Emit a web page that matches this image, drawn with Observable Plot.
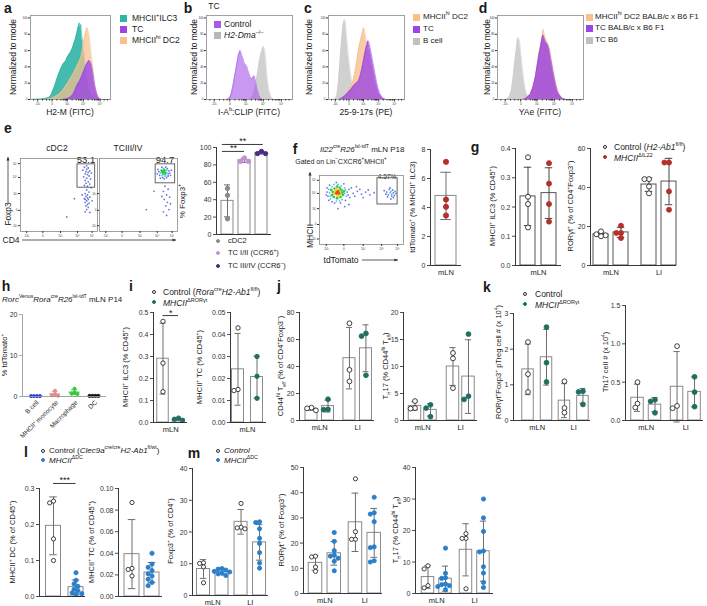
<!DOCTYPE html>
<html><head><meta charset="utf-8">
<script src="https://cdn.jsdelivr.net/npm/d3@7"></script>
<script src="https://cdn.jsdelivr.net/npm/@observablehq/plot@0.6"></script>
<style>
html,body{margin:0;padding:0;background:#fff;}
#fig{position:relative;width:707px;height:606px;overflow:hidden;font-family:"Liberation Sans",Arial,Helvetica,sans-serif;color:#1a1a1a;background:#fff;}
#fig sup{font-size:65%;vertical-align:super;line-height:0;}
#fig sub{font-size:65%;vertical-align:sub;line-height:0;}
</style></head><body><div id="fig"></div>
<script>
// ================= DATA =================
const histXMajor=[9,27,46,66,87];
const histXLabels=["-10³","0","10³","10⁴","10⁵"];
const histXMinor=[4,15,20,24,33,38,41,43,44,45,52,57,60,62,63,64,72,77,80,82,84,85,92,96];
const histYTicks=[0,20,40,60,80,100];
const aILC3=[[0,0],[14,0.5],[20,1.5],[24,3],[26,6],[28,11],[30,16],[32,22],[34,28],[36,33],[38,38],[40,42],[42,45],[44,47],[46,52],[48,55],[50,58],[52,62],[54,68],[56,74],[58,82],[60,90],[61,94],[62,88],[63,92],[64,80],[65,72],[66,62],[68,46],[70,30],[72,18],[74,10],[76,5],[79,2],[83,0.5],[86,0],[100,0]];
const aDC2=[[18,0],[24,1],[30,3],[35,6],[40,11],[45,18],[50,26],[54,33],[58,41],[61,47],[63,52],[65,62],[67,74],[69,84],[70,87],[71,88],[72,84],[73,80],[74,73],[75,62],[77,46],[79,28],[81,14],[83,6],[85,2],[88,0],[100,0]];
const aTC=[[40,0],[46,1],[50,3],[53,6],[55,10],[57,15],[59,19],[61,22],[63,26],[65,31],[67,36],[69,41],[71,45],[73,48],[74,47],[75,46],[76,43],[77,39],[78,33],[79,26],[80,19],[82,10],[84,4],[86,1],[89,0],[100,0]];
const bControl=[[24,0],[27,2],[29,8],[31,18],[33,30],[35,42],[37,54],[39,60],[40,58],[41,54],[43,48],[44,44],[46,42],[47,40],[48,36],[50,30],[51,27],[53,25],[54,27],[55,29],[56,28],[57,22],[59,12],[61,5],[63,1],[65,0],[100,0]];
const bDma=[[48,0],[52,1],[55,8],[57,18],[59,30],[61,44],[63,55],[65,62],[66,65],[67,63],[68,58],[69,48],[70,33],[71,22],[73,10],[75,3],[78,0],[100,0]];
const cBcell=[[5,0],[9,1],[11,5],[13,20],[15,45],[17,70],[19,90],[21,98],[22,95],[23,86],[24,75],[26,55],[28,38],[30,25],[32,16],[35,8],[38,4],[42,1],[46,0],[100,0]];
const cDC2=[[14,0],[18,2],[22,5],[26,10],[29,15],[32,22],[34,30],[36,40],[38,52],[40,64],[42,72],[44,80],[46,88],[47,86],[48,82],[49,76],[51,66],[53,58],[55,50],[57,40],[59,30],[61,20],[63,11],[65,6],[68,2],[72,0],[100,0]];
const cTC=[[14,0],[18,2],[22,5],[26,9],[30,13],[33,17],[36,20],[38,21],[40,24],[42,30],[44,38],[46,48],[48,58],[50,66],[52,72],[53,70],[55,62],[57,52],[59,42],[61,32],[63,22],[65,14],[67,8],[70,3],[73,1],[76,0],[100,0]];
const dTCB6=[[10,0],[13,2],[16,10],[18,25],[20,45],[22,62],[23,72],[24,76],[25,74],[26,68],[28,48],[30,28],[32,14],[34,6],[37,2],[40,0],[100,0]];
const dDC2F1=[[30,0],[34,2],[38,6],[41,14],[44,28],[46,42],[48,56],[50,66],[52,78],[53,86],[54,82],[56,74],[58,70],[60,64],[62,52],[64,40],[66,28],[68,18],[70,10],[73,4],[76,1],[80,0],[100,0]];
const dTCF1=[[30,0],[34,2],[38,6],[41,14],[44,27],[46,40],[48,53],[50,64],[52,76],[53,79],[54,76],[56,70],[58,68],[60,62],[62,50],[64,38],[66,27],[68,17],[70,9],[73,4],[76,1],[80,0],[100,0]];
const flowTicks=[8,29,52,74,93];
const flowLabels=["-10³","0","10³","10⁴","10⁵"];
const eDC2Pts=[[83,88],[86,85],[88,87],[85,82],[90,83],[84,79],[87,78],[89,76],[82,75],[86,73],[91,72],[84,70],[88,68],[85,66],[90,65],[83,63],[87,62],[86,57],[89,54],[84,52],[87,50],[85,48],[90,47],[83,45],[88,44],[86,42],[84,40],[89,39],[87,37],[85,35],[88,33],[86,30],[84,27],[90,26],[92,80],[81,84],[92,60],[80,50],[93,42],[60,20],[70,45],[86,90],[88,81],[84,44],[87,46]];
const eTCPts=[[81,81,2],[83,82,2],[82,79,2],[84,80,2],[80,83,2],[83,84,2],[78,80,1],[86,81,1],[80,77,1],[85,78,1],[82,86,1],[79,84,1],[86,84,1],[84,76,1],[76,82],[88,79],[77,77],[89,83],[81,74],[87,86],[75,85],[90,80],[83,72],[78,73],[86,74],[88,76],[80,88],[85,88],[92,84],[74,79],[91,77],[84,62],[88,58],[82,55],[86,50],[90,47],[83,44],[87,40],[85,35],[89,30],[82,27],[86,22],[91,38],[80,48],[60,30],[70,55]];
const fPts=[[21,76,4],[23,74,4],[22,77,4],[20,74,4],[19,77,3],[24,76,3],[21,72,3],[23,79,3],[18,74,3],[25,73,3],[20,80,3],[22,70,3],[16,76,2],[27,75,2],[15,72,2],[26,79,2],[18,81,2],[24,82,2],[17,69,2],[25,69,2],[21,67,2],[28,72,2],[14,79,2],[21,84,2],[29,77,2],[12,75,1],[30,74,1],[13,70,1],[31,79,1],[15,84,1],[26,85,1],[13,66,1],[27,65,1],[20,63,1],[32,70,1],[11,80,1],[22,87,1],[17,87,1],[30,82,1],[24,63,1],[9,76],[33,76],[10,70],[34,72],[12,86],[29,88],[11,64],[31,64],[18,60],[25,60],[9,82],[35,80],[20,90],[15,62],[8,72],[36,68],[40,74],[45,77],[50,73],[55,76],[60,72],[48,80],[42,70],[58,79],[65,75],[38,82],[52,68],[44,84],[30,55],[22,52],[35,58],[84,75,1],[86,73,1],[85,77,1],[80,76],[88,75],[82,72],[87,79],[83,80],[89,71],[81,69],[86,70],[90,77],[79,73],[84,82],[88,68],[77,78],[91,74],[85,66]];
const eDC2Gate=[74,97,60,92], eTCGate=[72,97,66,92], fGate=[69,93,58,96];
const eCDC2=[53,45,18], eTC12=[88,84,84], eTC34=[93,95.5,93];
const fTdTomato=[7.15,4.55,4.05,3.45];
const g1Control=[0.37,0.235,0.21,0.13], g1MHCII=[0.35,0.28,0.21,0.15];
const tissues=["mLN","LI"];
const g2Control=[[17.5,16,15.5,15],[44.3,44.3,40.5,37]];
const g2MHCII=[[20.4,16.7,16.7,14.1],[52.8,52.8,38,28.6]];
const hCells=["B cell","MHCII⁺ monocyte","Macrophage","DC"];
const hBcell=[0.1,0.1,0.1,0.1], hMono=[1.4,0.5,0.3,0.2], hMac=[1.9,1.0,0.7,0.6], hDC=[0.15,0.15,0.15,0.15];
const i1Control=[0.46,0.27,0.14], i1MHCII=[0.02,0.015,0.01];
const i2Control=[0.043,0.0145,0.015], i2MHCII=[0.030,0.021,0.011];
const j1Control=[[7.5,9.5,9],[72,37.5,29]], j1MHCII=[[15.75,8.25,8],[64.5,62.5,33.5]];
const j2Control=[[3.6,2.2,2.3],[12.5,11.5,6]], j2MHCII=[[2.9,2.3,0.7],[16,4.5,3.9]];
const k1Control=[[2.2,1.3,0.8],[1.1,0.35,0.22]], k1MHCII=[[2.62,1.62,1.08],[0.82,0.8,0.45]];
const k2Control=[[0.5,0.17,0.22],[0.97,0.19,0.16]], k2MHCII=[[0.27,0.25,0.1],[0.57,0.37,0.18]];
const l1Control=[0.265,0.26,0.16,0.10], l1MHCII=[0.066,0.045,0.035,0.028,0.02,0.016,0.01,0.008,0.006];
const l2Control=[0.087,0.026,0.025,0.019], l2MHCII=[0.040,0.030,0.027,0.024,0.021,0.019,0.016,0.013,0.010];
const m1Control=[[10.3,10.1,9.0,4.0],[29,21.5,21.3,21]], m1MHCII=[[8.5,8.3,8.0,7.6,7.4,7.0,6.8,6.3],[23.2,23.0,21.0,18,16.4,13.5,10.2,8.6]];
const m2Control=[[14.8,14.5,10.5,8.8],[45.5,24.5,21.5,21.5]], m2MHCII=[[24.2,20.7,17.0,15.2,14.8,14.0,12.8,9.0],[38.2,32,31.5,28.5,18.5,18.2,13,12.5]];
const m3Control=[[8.8,7.8,2.5,1.8],[19,17.5,17.5,1.5]], m3MHCII=[[14.4,6.4,5.0,4.8,3.0,2.8,2.5,2.2,1.2],[30,24,19.7,13.5,13.2,8.5,6.5,3.5,1.9]];

// ================= STYLE =================
const FONT='"Liberation Sans", Arial, Helvetica, sans-serif';
const TEAL='#2fb5a6', PEACH='#f7c08c', VIOLET='#9b45e4';
const RED='#b3302b', GREEN='#1f6e60', BLUE='#2a7fc9';
const JET=['#4b5fd2','#27b8e6','#35c94a','#f0d12b','#ec4a1f'];
const fig=document.getElementById('fig');

function wrap(svg,left,top,W,H){const d=document.createElement('div');Object.assign(d.style,{position:'absolute',left:left+'px',top:top+'px',width:W+'px',height:H+'px',zIndex:'5'});d.appendChild(svg);fig.appendChild(d);}
function plotAt(r,m,opts,fs){
  const W=r.x1-r.x0+m.l+m.r,H=r.y1-r.y0+m.t+m.b;
  const svg=Plot.plot({width:W,height:H,marginLeft:m.l,marginRight:m.r,marginTop:m.t,marginBottom:m.b,
    style:{background:'transparent',fontFamily:FONT,fontSize:(fs||7)+'px',color:'#333',overflow:'visible'},...opts});
  wrap(svg,r.x0-m.l,r.y0-m.t,W,H);
  return {svg,left:r.x0-m.l,top:r.y0-m.t,m,r};
}
function txt(html,x,y,o={}){
  const d=document.createElement('div');d.innerHTML=html;
  const s=d.style;s.position='absolute';s.left=x+'px';s.top=y+'px';s.whiteSpace='nowrap';s.lineHeight='1';s.zIndex=o.z||'1';s.background='transparent';
  s.fontSize=(o.size||8)+'px';if(o.bold)s.fontWeight='bold';if(o.italic)s.fontStyle='italic';s.color=o.color||'#1a1a1a';
  const ax=o.anchor==='start'?'0':(o.anchor==='end'?'-100%':'-50%');
  s.transform=`translate(${ax},-50%)`+(o.rotate?` rotate(${o.rotate}deg)`:'');
  fig.appendChild(d);
}
function sq(x,y,color,s=7){const d=document.createElement('div');Object.assign(d.style,{position:'absolute',zIndex:'1',left:(x-s/2)+'px',top:(y-s/2)+'px',width:s+'px',height:s+'px',background:color});fig.appendChild(d);}
function circ(x,y,fill,stroke,r=2.3){const d=document.createElement('div');Object.assign(d.style,{position:'absolute',zIndex:'1',left:(x-r)+'px',top:(y-r)+'px',width:(2*r)+'px',height:(2*r)+'px',background:fill,border:`0.9px solid ${stroke}`,borderRadius:'50%',boxSizing:'border-box'});fig.appendChild(d);}

function histo(r,layers){
  const marks=[];
  for(const L of layers){
    marks.push(Plot.areaY(L.data,{x:d=>d[0],y:d=>d[1],fill:L.color,fillOpacity:L.op,curve:'linear'}));
    marks.push(Plot.lineY(L.data,{x:d=>d[0],y:d=>d[1],stroke:L.color,strokeWidth:0.6,curve:'linear'}));
  }
  const lab=new Map(histXMajor.map((v,i)=>[v,histXLabels[i]]));
  marks.push(Plot.frame({stroke:'#8a8a8a',strokeWidth:0.8}));
  marks.push(Plot.axisY({ticks:histYTicks,tickSize:2,tickPadding:1,label:null}));
  marks.push(Plot.axisX({ticks:histXMajor,tickFormat:d=>lab.get(d),tickSize:2.5,tickPadding:1,label:null}));
  marks.push(Plot.axisX({ticks:histXMinor,tickFormat:()=>'',tickSize:1.5,label:null}));
  plotAt(r,{l:8,r:2,t:2,b:8},{x:{domain:[0,100]},y:{domain:[0,103]},marks},3);
}
function flow(r,pts,gate,noYLabels){
  const lo=pts.filter(p=>(p[2]||0)<2), hi=pts.filter(p=>(p[2]||0)>=2).sort((a,b)=>a[2]-b[2]);
  const lab=new Map(flowTicks.map((v,i)=>[v,flowLabels[i]]));
  plotAt(r,{l:7,r:1,t:1,b:6},{x:{domain:[0,100]},y:{domain:[0,100]},color:{type:'identity'},marks:[
    Plot.frame({stroke:'#8a8a8a',strokeWidth:0.8}),
    Plot.dot(lo,{x:d=>d[0],y:d=>d[1],r:0.9,fill:d=>JET[d[2]||0],fillOpacity:0.85,stroke:null}),
    Plot.dot(hi,{x:d=>d[0],y:d=>d[1],r:1.4,fill:d=>JET[d[2]],stroke:null}),
    Plot.rect([gate],{x1:d=>d[0],x2:d=>d[1],y1:d=>d[2],y2:d=>d[3],fill:'none',stroke:'#555',strokeWidth:0.9}),
    Plot.axisY({ticks:noYLabels?flowTicks.slice(0,3):flowTicks,tickFormat:d=>lab.get(d),tickSize:2,tickPadding:1,label:null}),
    Plot.axisX({ticks:flowTicks,tickFormat:d=>lab.get(d),tickSize:2,tickPadding:1,label:null})
  ]},3);
}
function swarm(vals,r,k,center){
  const d=2*r*0.92,placed=[];
  const sorted=[...vals].sort((a,b)=>b-a);
  for(const v of sorted){
    const py=v*k;
    for(let i=0;i<400;i++){
      const off=i===0?0:(i%2?-1:1)*Math.ceil(i/2)*d/2;
      if(placed.every(p=>Math.hypot(p.px-off,p.py-py)>=d)){placed.push({v,px:off,py});break;}
    }
  }
  if(center){const mo=d3.mean(placed,p=>p.px);placed.forEach(p=>p.px-=mo);}
  return placed.map(p=>[p.v,p.px]);
}
function barChart(L,groups,series){
  const dom=[(L.x0-L.c0)/L.unit,(L.x1-L.c0)/L.unit];
  const k=(L.yBot-L.yTop)/L.ymax, r=L.r||2.3, step=L.step||1;
  const fmt=L.fmt||(d=>String(d));
  const stats=[],pts=[];
  series.forEach((s,si)=>s.values.forEach((vals,gi)=>{
    const c=gi*step+si;
    const m=d3.mean(vals),sd=vals.length>1?d3.deviation(vals):0;
    stats.push({c,m,lo:m-sd,hi:m+sd,color:s.color});
    for(const [v,off] of swarm(vals,r,k,L.center)) pts.push({x:c+off/L.unit,y:v,fill:s.filled?s.color:'#fff',stroke:s.filled?s.color:'#2b2b2b'});
  }));
  const bw=L.barW||12, hw=bw/2/L.unit, cap=(L.capW||bw*0.5)/2/L.unit;
  const ec=L.noBars?(d=>d.color):(L.errColor||'#6e6e6e');
  const axC=L.axisColor||'#222';
  const marks=[];
  if(!L.noBars) marks.push(Plot.rect(stats,{x1:d=>d.c-hw,x2:d=>d.c+hw,y1:0,y2:'m',fill:'#fff',stroke:L.barColor||'#8a8a8a',strokeWidth:1}));
  else marks.push(Plot.ruleY(stats,{y:'m',x1:d=>d.c-hw,x2:d=>d.c+hw,stroke:d=>d.color,strokeWidth:1.2}));
  marks.push(Plot.ruleX(stats,{x:'c',y1:'lo',y2:'hi',stroke:ec,strokeWidth:1}));
  marks.push(Plot.ruleY(stats,{y:'hi',x1:d=>d.c-cap,x2:d=>d.c+cap,stroke:ec,strokeWidth:1}));
  marks.push(Plot.ruleY(stats,{y:'lo',x1:d=>d.c-cap,x2:d=>d.c+cap,stroke:ec,strokeWidth:1}));
  marks.push(Plot.dot(pts,{x:'x',y:'y',r,fill:d=>d.fill,stroke:d=>d.stroke,strokeWidth:0.9}));
  marks.push(Plot.ruleX([dom[0]],{y1:0,y2:L.ymax,stroke:axC,strokeWidth:0.9}));
  marks.push(Plot.ruleY([0],{x1:dom[0],x2:dom[1],stroke:axC,strokeWidth:0.9}));
  marks.push(Plot.ruleY(L.ticks,{y:d=>d,x1:()=>dom[0]-3/L.unit,x2:()=>dom[0],stroke:axC,strokeWidth:0.8}));
  if(groups&&!L.rotLabels) marks.push(Plot.text(groups,{x:(d,i)=>i*step+(series.length-1)/2,y:()=>0,text:d=>d,dy:L.labDy||4,lineAnchor:'top',fontSize:7.5,fill:'#222'}));
  if(L.rotLabels) marks.push(Plot.text(groups,{x:(d,i)=>i,y:()=>0,text:d=>d,dy:5,dx:2,rotate:-45,textAnchor:'end',fontSize:6.5,fill:'#222'}));
  if(L.sig){
    marks.push(Plot.ruleY(L.sig,{y:'y',x1:'a',x2:'b',stroke:'#222',strokeWidth:0.9}));
    marks.push(Plot.text(L.sig,{x:d=>(d.a+d.b)/2,y:'y',text:'t',dy:0,lineAnchor:'bottom',fontSize:9,fill:'#222'}));
  }
  const P=plotAt({x0:L.x0,x1:L.x1,y0:L.yTop,y1:L.yBot},{l:26,r:4,t:8,b:14},{
    x:{domain:dom,axis:null},y:{domain:[0,L.ymax],axis:null},color:{type:'identity'},marks},7);
  // y tick labels placed through the chart's own scales
  let ys=null,xs=null;
  try{ys=P.svg.scale('y');xs=P.svg.scale('x');}catch(e){}
  for(const v of L.ticks){
    const px=xs?P.left+xs.apply(dom[0]):L.x0;
    const py=ys?P.top+ys.apply(v):(L.yBot-(v/L.ymax)*(L.yBot-L.yTop));
    txt(fmt(v),px-4.5,py,{size:7,anchor:'end',color:'#333',z:'6'});
  }
}
const f1=d3.format('.1f'), f2=d3.format('.2f');
const CTRL={color:'#2b2b2b',filled:false};

// ================= TEXT =================
const L14={size:14,bold:true};
[['a',8,8],['b',188,8],['c',308,8],['d',483,8],['e',8,128],['f',295,149],['g',475,147],['h',6,286],['i',131,286],['j',279,286],['k',487,287],['l',26,452],['m',194,453]]
  .forEach(([t,x,y])=>txt(t,x,y,L14));
[13,194,309,487].forEach(x=>txt('Normalized to mode',x,57,{size:8.5,rotate:-90}));
txt('H2-M (FITC)',70,112,{size:8.5});
txt('I-A<sup>b</sup>:CLIP (FITC)',249,112,{size:8.5});
txt('25-9-17s (PE)',366,112,{size:8.5});
txt('YAe (FITC)',540,112,{size:8.5});
sq(123,18,TEAL);sq(123,29,VIOLET);sq(123,40,PEACH);
txt('MHCII<sup>+</sup>ILC3',132,18,{size:8.5,anchor:'start'});txt('TC',132,29,{size:8.5,anchor:'start'});txt('MHCII<sup>hi</sup> DC2',132,40,{size:8.5,anchor:'start'});
txt('TC',214,6,{size:8.5});
sq(217,24,'#a85be8');sq(217,35,'#b8b8b8');
txt('Control',224,24,{size:8.5,anchor:'start'});txt('<i>H2-Dma</i><sup>–/–</sup>',224,35,{size:8.5,anchor:'start'});
sq(416,17,PEACH);sq(416,29,VIOLET);sq(416,41,'#c0c0c0');
txt('MHCII<sup>hi</sup> DC2',423,17,{size:8,anchor:'start'});txt('TC',423,29,{size:8,anchor:'start'});txt('B cell',423,41,{size:8,anchor:'start'});
sq(589,17,PEACH);sq(589,28,VIOLET);sq(589,40,'#c0c0c0');
txt('MHCII<sup>hi</sup> DC2 BALB/c x B6 F1',595,17,{size:8,anchor:'start'});txt('TC BALB/c x B6 F1',595,28,{size:8,anchor:'start'});txt('TC B6',595,40,{size:8,anchor:'start'});

txt('cDC2',57,148,{size:8.5});txt('TCIII/IV',128,148,{size:8.5});
txt('53.1',86,160,{size:9.5});txt('94.7',165,160,{size:9.5});
txt('Foxp3',8,214,{size:8.5,rotate:-90});txt('CD4',11,240,{size:8.5});
txt('% Foxp3<sup>+</sup>',183,201,{size:8,rotate:-90});
circ(218,241,'#8a8a8a','#8a8a8a',2);circ(218,253,'#c490d6','#c490d6',2);circ(218,266,'#4b2b82','#4b2b82',2);
txt('cDC2',228,241,{size:7.5,anchor:'start'});txt('TC I/II (CCR6<sup>+</sup>)',228,253,{size:7.5,anchor:'start'});txt('TC III/IV (CCR6<sup>–</sup>)',228,266,{size:7.5,anchor:'start'});

txt('<i>Il22</i><sup>cre</sup><i>R26</i><sup>lsl-tdT</sup> mLN P18',320,150,{size:8,anchor:'start'});
txt('Gated on Lin<sup>–</sup>CXCR6<sup>+</sup>MHCII<sup>+</sup>',341,161,{size:7});
txt('4.57%',387,176.5,{size:6.5});
txt('MHCII',310,236,{size:8.5,rotate:-90});txt('tdTomato',341,260,{size:8.5});
txt('tdTomato<sup>+</sup> (% MHCII<sup>+</sup> ILC3)',413,207,{size:7.5,rotate:-90});

txt('MHCII<sup>+</sup> ILC3 (% CD45<sup>+</sup>)',493,206,{size:7.5,rotate:-90});
txt('RORγt<sup>+</sup> (% of CD4<sup>+</sup>Foxp3<sup>+</sup>)',571,206,{size:7.5,rotate:-90});
circ(605,147,'#fff','#2b2b2b');circ(605,157,RED,RED);
txt('Control (<i>H2-Ab1</i><sup>fl/fl</sup>)',614,147,{size:8.5,anchor:'start'});
txt('<i>MHCII</i><sup>ΔIL22</sup>',614,158,{size:8.5,anchor:'start'});

txt('<i>Rorc</i><sup>Venus</sup><i>Rora</i><sup>cre</sup><i>R26</i><sup>lsl-tdT</sup> mLN P14',2,300,{size:8,anchor:'start'});
txt('% tdTomato<sup>+</sup>',5,355,{size:7.5,rotate:-90});

circ(154,292,'#fff','#2b2b2b');circ(154,302,GREEN,GREEN);
txt('Control (<i>Rora</i><sup>cre</sup><i>H2-Ab1</i><sup>fl/fl</sup>)',163,292,{size:8.5,anchor:'start'});
txt('<i>MHCII</i><sup>ΔRORγt</sup>',163,303,{size:8.5,anchor:'start'});
txt('MHCII<sup>+</sup> ILC3 (% CD45<sup>+</sup>)',126,367,{size:7.5,rotate:-90});
txt('MHCII<sup>+</sup> TC (% CD45<sup>+</sup>)',200,367,{size:7.5,rotate:-90});

txt('CD44<sup>hi</sup> T<sub>eff</sub> (% of CD4<sup>+</sup>Foxp3<sup>–</sup>)',281,366,{size:7.5,rotate:-90});
txt('T<sub>H</sub>17 (% CD44<sup>hi</sup> T<sub>eff</sub>)',386,366,{size:7.5,rotate:-90});

circ(525,294,'#fff','#2b2b2b');circ(525,304,GREEN,GREEN);
txt('Control',535,294,{size:8.5,anchor:'start'});txt('<i>MHCII</i><sup>ΔRORγt</sup>',535,305,{size:8.5,anchor:'start'});
txt('RORγt<sup>+</sup>Foxp3<sup>+</sup> pTreg cell # (x 10<sup>4</sup>)',499,362,{size:7.5,rotate:-90});
txt('Th17 cell # (x 10<sup>4</sup>)',606,362,{size:7.5,rotate:-90});

circ(43,451,'#fff','#2b2b2b');circ(43,460,BLUE,BLUE);
txt('Control (<i>Clec9a</i><sup>cre/cre</sup><i>H2-Ab1</i><sup>fl/wt</sup>)',49,451,{size:8,anchor:'start'});
txt('<i>MHCII</i><sup>ΔDC</sup>',49,461,{size:8,anchor:'start'});
txt('MHCII<sup>+</sup> DC (% of CD45<sup>+</sup>)',13,542,{size:7.5,rotate:-90});
txt('MHCII<sup>+</sup> TC (% of CD45<sup>+</sup>)',92,542,{size:7.5,rotate:-90});

circ(218,451,'#fff','#2b2b2b');circ(218,460,BLUE,BLUE);
txt('<i>Control</i>',224,451,{size:8,anchor:'start'});txt('<i>MHCII</i><sup>ΔDC</sup>',224,461,{size:8,anchor:'start'});
txt('Foxp3<sup>+</sup> (% of CD4<sup>+</sup>)',171,531,{size:7.5,rotate:-90});
txt('RORγt<sup>+</sup> (% of Foxp3<sup>+</sup>)',282,530,{size:7.5,rotate:-90});
txt('T<sub>H</sub>17 (% CD44<sup>hi</sup> T<sub>eff</sub>)',396,530,{size:7.5,rotate:-90});

const NS='http://www.w3.org/2000/svg';
function arrow(x1,y1,x2,y2){
  const minx=Math.min(x1,x2)-3,miny=Math.min(y1,y2)-3,w=Math.abs(x2-x1)+6,h=Math.abs(y2-y1)+6;
  const sv=document.createElementNS(NS,'svg');sv.setAttribute('width',w);sv.setAttribute('height',h);
  Object.assign(sv.style,{position:'absolute',left:minx+'px',top:miny+'px',zIndex:'1',overflow:'visible'});
  const l=document.createElementNS(NS,'line');
  l.setAttribute('x1',x1-minx);l.setAttribute('y1',y1-miny);l.setAttribute('x2',x2-minx);l.setAttribute('y2',y2-miny);
  l.setAttribute('stroke','#333');l.setAttribute('stroke-width','0.8');sv.appendChild(l);
  const a=Math.atan2(y2-y1,x2-x1),s=3.5,hw=1.6,X=x2-minx,Y=y2-miny;
  const bx=X-s*Math.cos(a),by=Y-s*Math.sin(a);
  const p=document.createElementNS(NS,'polygon');
  p.setAttribute('points',`${X},${Y} ${bx+hw*Math.sin(a)},${by-hw*Math.cos(a)} ${bx-hw*Math.sin(a)},${by+hw*Math.cos(a)}`);
  p.setAttribute('fill','#333');sv.appendChild(p);fig.appendChild(sv);
}
arrow(8,203,8,157);arrow(22,240,176,240);
arrow(310,226,310,172);arrow(362,260,398,260);

// ================= CHARTS =================
histo({x0:30,x1:110,y0:15,y1:99},[{data:aILC3,color:TEAL,op:0.9},{data:aDC2,color:PEACH,op:0.72},{data:aTC,color:VIOLET,op:0.8}]);
histo({x0:206,x1:292,y0:15,y1:99},[{data:bDma,color:'#cfcfcf',op:0.95},{data:bControl,color:'#a85be8',op:0.62}]);
histo({x0:328,x1:404,y0:15,y1:99},[{data:cBcell,color:'#cdcdcd',op:0.95},{data:cDC2,color:PEACH,op:0.8},{data:cTC,color:VIOLET,op:0.78}]);
histo({x0:497,x1:583,y0:15,y1:99},[{data:dTCB6,color:'#cdcdcd',op:0.95},{data:dDC2F1,color:PEACH,op:0.9},{data:dTCF1,color:VIOLET,op:0.82}]);
flow({x0:20,x1:97,y0:158,y1:231},eDC2Pts,eDC2Gate);
flow({x0:99,x1:177,y0:158,y1:231},eTCPts,eTCGate,true);
barChart({x0:216,x1:271,yTop:147,yBot:234,ymax:100,ticks:[0,20,40,60,80,100],c0:227,unit:17,barW:12,r:2.2,
  sig:[{a:-0.3,b:1,y:95.5,t:'**'},{a:-0.3,b:2.1,y:103.5,t:'**'}]},null,
  [{values:[eCDC2],color:'#8a8a8a',filled:true},{values:[eTC12],color:'#c490d6',filled:true},{values:[eTC34],color:'#4b2b82',filled:true}]);
flow({x0:319,x1:403,y0:175,y1:244},fPts,fGate);
barChart({x0:430,x1:461,yTop:149,yBot:265,ymax:8,ticks:[0,2,4,6,8],c0:445.5,unit:20,barW:21,r:2.6},["mLN"],[{values:[fTdTomato],color:RED,filled:true}]);
barChart({x0:515,x1:561,yTop:148,yBot:265,ymax:0.4,ticks:[0,0.1,0.2,0.3,0.4],fmt:f1,c0:527.5,unit:21,barW:15,r:2.5,barColor:'#555',errColor:'#444'},["mLN"],[{...CTRL,values:[g1Control]},{values:[g1MHCII],color:RED,filled:true}]);
barChart({x0:590,x1:676,yTop:148,yBot:265,ymax:60,ticks:[0,20,40,60],c0:600.5,unit:20,step:2.4,barW:15,r:2.5,barColor:'#555',errColor:'#444'},tissues,[{...CTRL,values:g2Control},{values:g2MHCII,color:RED,filled:true}]);
barChart({x0:22,x1:106,yTop:314,yBot:396,ymax:20,ticks:[0,10,20],c0:35,unit:19.5,barW:11,capW:6,r:1.6,noBars:true,center:true,rotLabels:true,step:1,axisColor:'#999'},hCells,
  [{values:[hBcell],color:'#2a3fd9',filled:true},{values:[hMono],color:'#e48b8b',filled:true},{values:[hMac],color:'#39c83d',filled:true},{values:[hDC],color:'#111',filled:true}]);
barChart({x0:153,x1:187,yTop:312,yBot:422,ymax:0.5,ticks:[0,0.1,0.2,0.3,0.4,0.5],fmt:f1,c0:162.5,unit:15.5,barW:11.5,r:2.2,labDy:4.5,
  sig:[{a:0,b:1,y:0.486,t:'*'}]},["mLN"],[{...CTRL,values:[i1Control]},{values:[i1MHCII],color:GREEN,filled:true}]);
barChart({x0:230,x1:266,yTop:312,yBot:422,ymax:0.05,ticks:[0,0.01,0.02,0.03,0.04,0.05],fmt:f2,c0:237.5,unit:19,barW:12,r:2.2,labDy:4.5},["mLN"],[{...CTRL,values:[i2Control]},{values:[i2MHCII],color:GREEN,filled:true}]);
barChart({x0:299,x1:374,yTop:312,yBot:420,ymax:80,ticks:[0,20,40,60,80],c0:311,unit:16.5,step:2.3,barW:12,r:2.4},tissues,[{...CTRL,values:j1Control},{values:j1MHCII,color:GREEN,filled:true}]);
barChart({x0:403,x1:477,yTop:312,yBot:420,ymax:20,ticks:[0,5,10,15,20],c0:414.5,unit:15.5,step:2.45,barW:12.5,r:2.4},tissues,[{...CTRL,values:j2Control},{values:j2MHCII,color:GREEN,filled:true}]);
barChart({x0:513,x1:590,yTop:313,yBot:420,ymax:3,ticks:[0,1,2,3],c0:527.5,unit:18.5,step:1.97,barW:11.5,r:2.4},tissues,[{...CTRL,values:k1Control},{values:k1MHCII,color:GREEN,filled:true}]);
barChart({x0:625,x1:703,yTop:305,yBot:420,ymax:1.5,ticks:[0,0.5,1,1.5],fmt:f1,c0:637,unit:17.5,step:2.26,barW:12.5,r:2.4},tissues,[{...CTRL,values:k2Control},{values:k2MHCII,color:GREEN,filled:true}]);
barChart({x0:39,x1:85,yTop:488,yBot:596,ymax:0.3,ticks:[0,0.1,0.2,0.3],fmt:f1,c0:53,unit:22.5,barW:15,r:2.1,
  sig:[{a:0,b:1,y:0.314,t:'***'}]},null,[{...CTRL,values:[l1Control]},{values:[l1MHCII],color:BLUE,filled:true}]);
barChart({x0:118,x1:162,yTop:488,yBot:596,ymax:0.1,ticks:[0,0.02,0.04,0.06,0.08,0.1],fmt:f2,c0:131.5,unit:20,barW:15,r:2.1},null,[{...CTRL,values:[l2Control]},{values:[l2MHCII],color:BLUE,filled:true}]);
barChart({x0:192,x1:268,yTop:468,yBot:595,ymax:40,ticks:[0,10,20,30,40],c0:203,unit:18.5,step:2.03,barW:13,r:2.1},tissues,[{...CTRL,values:m1Control},{values:m1MHCII,color:BLUE,filled:true}]);
barChart({x0:303,x1:382,yTop:467,yBot:593,ymax:50,ticks:[0,10,20,30,40,50],c0:315,unit:18.75,step:2.13,barW:13.5,r:2.1},tissues,[{...CTRL,values:m2Control},{values:m2MHCII,color:BLUE,filled:true}]);
barChart({x0:415,x1:493,yTop:467,yBot:593,ymax:40,ticks:[0,10,20,30,40],c0:427.5,unit:17.5,step:2.17,barW:12.5,r:2.1},tissues,[{...CTRL,values:m3Control},{values:m3MHCII,color:BLUE,filled:true}]);
</script>
</body></html>
